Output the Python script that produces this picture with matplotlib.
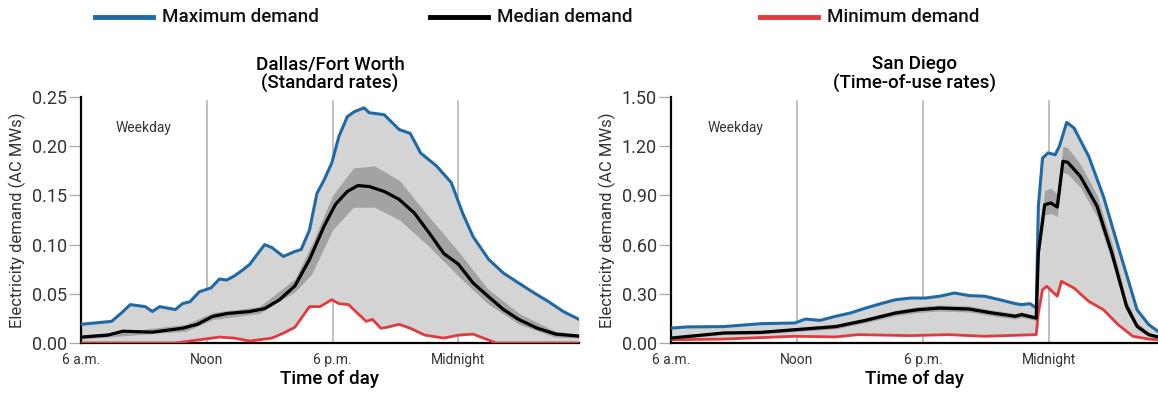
import matplotlib
matplotlib.use("Agg")
import matplotlib.pyplot as plt
from matplotlib.lines import Line2D
import numpy as np

plt.rcParams['font.family'] = ['Roboto', 'DejaVu Sans']

# ---------------- data (hours after 6 a.m.) ----------------
# Dallas / Fort Worth
dfw_max_h = [0, 1.46, 1.9, 2.35, 3.06, 3.4, 3.75, 4.5, 4.84, 5.2, 5.64, 6.2, 6.6, 6.95, 7.3, 7.7, 8.05, 8.4,
             8.76, 9.1, 9.65, 10.2, 10.5, 10.9, 11.25, 11.6, 11.96, 12.3, 12.7, 13.03, 13.5, 13.75, 14.46,
             15.17, 15.7, 16.2, 16.95, 17.66, 18.2, 18.7, 19.44, 20.15, 20.87, 21.6, 22.3, 23.0, 23.75]
dfw_max = [0.019, 0.022, 0.030, 0.039, 0.037, 0.032, 0.037, 0.034, 0.040, 0.042, 0.052, 0.056, 0.065, 0.064,
           0.068, 0.074, 0.080, 0.090, 0.100, 0.097, 0.088, 0.093, 0.095, 0.115, 0.152, 0.166, 0.183, 0.210,
           0.230, 0.235, 0.239, 0.234, 0.232, 0.217, 0.213, 0.193, 0.180, 0.163, 0.132, 0.108, 0.085, 0.071,
           0.061, 0.051, 0.042, 0.032, 0.024]

dfw_med_h = [0, 1.28, 2.0, 3.4, 4.84, 5.55, 6.27, 6.98, 8.05, 8.76, 9.47, 10.2, 10.9, 11.6, 12.14, 12.7,
             13.2, 13.75, 14.46, 15.17, 15.9, 16.6, 17.3, 18.0, 18.7, 19.44, 20.15, 20.87, 21.76, 22.65, 23.75]
dfw_med = [0.006, 0.008, 0.012, 0.011, 0.015, 0.019, 0.027, 0.030, 0.032, 0.035, 0.044, 0.058, 0.085, 0.119,
           0.141, 0.154, 0.160, 0.159, 0.154, 0.146, 0.132, 0.112, 0.091, 0.080, 0.061, 0.047, 0.034, 0.024,
           0.015, 0.009, 0.007]

dfw_band_h = [0, 3, 5, 6.3, 8.5, 10.2, 11.0, 12.0, 13.0, 14.0, 15.2, 16.6, 18.0, 19.4, 20.9, 22.6, 23.75]
dfw_band_hi = [0.008, 0.014, 0.019, 0.031, 0.037, 0.065, 0.100, 0.150, 0.178, 0.180, 0.165, 0.128, 0.093,
               0.055, 0.030, 0.012, 0.009]
dfw_band_lo = [0.004, 0.009, 0.012, 0.024, 0.030, 0.052, 0.070, 0.115, 0.138, 0.138, 0.125, 0.098, 0.068,
               0.040, 0.019, 0.006, 0.005]

dfw_min_h = [0, 4.5, 4.84, 5.9, 6.6, 7.3, 8.05, 8.4, 9.1, 9.65, 10.2, 10.5, 10.9, 11.4, 11.96, 12.3, 12.76,
             13.2, 13.6, 13.9, 14.3, 14.6, 15.17, 15.7, 16.4, 17.3, 18.0, 18.7, 19.44, 19.8, 23.75]
dfw_min = [0.0, 0.0, 0.001, 0.004, 0.006, 0.005, 0.002, 0.003, 0.005, 0.010, 0.016, 0.025, 0.037, 0.037,
           0.044, 0.040, 0.039, 0.030, 0.022, 0.024, 0.015, 0.016, 0.019, 0.015, 0.008, 0.005, 0.008, 0.009,
           0.003, 0.0, 0.0]

# San Diego
sd_max_h = [0, 0.75, 2.5, 4.3, 5.9, 6.4, 7.1, 7.85, 8.55, 9.27, 10.0, 10.7, 11.4, 12.1, 12.8, 13.5, 14.2,
            14.95, 15.66, 16.4, 16.7, 17.1, 17.4, 17.5, 17.7, 17.96, 18.3, 18.5, 18.85, 19.2, 19.9, 20.6,
            21.3, 21.87, 22.2, 22.76, 23.2]
sd_max = [0.091, 0.098, 0.100, 0.118, 0.122, 0.146, 0.138, 0.163, 0.183, 0.213, 0.240, 0.264, 0.274, 0.274,
          0.285, 0.305, 0.289, 0.285, 0.264, 0.240, 0.234, 0.240, 0.213, 0.833, 1.128, 1.159, 1.148, 1.199,
          1.345, 1.311, 1.138, 0.894, 0.589, 0.346, 0.203, 0.112, 0.071]

sd_med_h = [0, 2.5, 4.3, 5.9, 7.85, 9.27, 10.7, 11.75, 12.8, 14.2, 15.3, 16.4, 16.7, 17.4, 17.5, 17.8, 18.1,
            18.4, 18.67, 18.9, 19.5, 20.3, 21.0, 21.7, 22.2, 22.76, 23.2]
sd_med = [0.030, 0.061, 0.065, 0.081, 0.100, 0.138, 0.183, 0.203, 0.213, 0.207, 0.183, 0.163, 0.173, 0.152,
          0.549, 0.843, 0.854, 0.829, 1.108, 1.102, 1.016, 0.833, 0.549, 0.224, 0.102, 0.051, 0.037]
sd_band_hi = [0.040, 0.071, 0.075, 0.093, 0.115, 0.153, 0.200, 0.222, 0.232, 0.226, 0.201, 0.180, 0.190,
              0.168, 0.600, 0.930, 0.945, 0.905, 1.200, 1.190, 1.090, 0.900, 0.610, 0.262, 0.125, 0.064, 0.046]
sd_band_lo = [0.022, 0.051, 0.055, 0.070, 0.086, 0.124, 0.167, 0.186, 0.195, 0.189, 0.166, 0.147, 0.157,
              0.137, 0.500, 0.780, 0.790, 0.770, 1.040, 1.030, 0.950, 0.770, 0.500, 0.196, 0.084, 0.040, 0.030]

sd_min_h = [0, 2.5, 5.9, 7.85, 8.9, 11.4, 13.2, 14.95, 17.4, 17.5, 17.7, 17.9, 18.4, 18.6, 19.2, 19.9,
            20.6, 21.3, 22.0, 22.76, 23.2]
sd_min = [0.020, 0.024, 0.041, 0.037, 0.051, 0.045, 0.051, 0.041, 0.051, 0.183, 0.325, 0.346, 0.285, 0.376,
          0.335, 0.254, 0.203, 0.112, 0.041, 0.024, 0.020]

tick_hours = [0, 6, 12, 18]
tick_labels = ['6 a.m.', 'Noon', '6 p.m.', 'Midnight']

# ---------------- styling ----------------
BLUE = '#1f6aa5'
RED = '#e03a3e'
LIGHT = '#d4d4d4'
DARK = '#a3a3a3'
W, H = 1158, 397

fig = plt.figure(figsize=(W / 100, H / 100), dpi=100)


def px_axes(x0, x1, ytop, ybot):
    return fig.add_axes([x0 / W, (H - ybot) / H, (x1 - x0) / W, (ybot - ytop) / H])


def draw(ax, mx_h, mx, md_h, md, bh, blo, bhi, mn_h, mn, ymax, yticks, ylabels, xmax, title, wk_x):
    grid = np.linspace(0, xmax, 600)
    env_hi = np.interp(grid, mx_h, mx)
    env_lo = np.interp(grid, mn_h, mn)
    ax.fill_between(grid, env_lo, env_hi, color=LIGHT, lw=0, zorder=1)
    ax.fill_between(bh, blo, bhi, color=DARK, lw=0, zorder=2)
    for xv in [6, 12, 18]:
        ax.plot([xv, xv], [0, ymax * 0.985], color='#b5b5b5', lw=1.2, zorder=0.5)
    ax.plot(mn_h, mn, color=RED, lw=2.0, zorder=3, solid_joinstyle='round')
    ax.plot(mx_h, mx, color=BLUE, lw=2.2, zorder=3, solid_joinstyle='round')
    ax.plot(md_h, md, color='black', lw=2.3, zorder=4, solid_joinstyle='round')
    ax.set_xlim(0, xmax)
    ax.set_ylim(0, ymax)
    ax.set_yticks(yticks)
    ax.set_yticklabels(ylabels, fontsize=13, color='#333333')
    ax.tick_params(axis='y', length=9, width=0.9, color='#aaaaaa', pad=1)
    ax.set_xticks(tick_hours)
    ax.set_xticklabels(tick_labels, fontsize=10, color='#333333')
    ax.tick_params(axis='x', length=0, pad=7)
    for s in ['top', 'right']:
        ax.spines[s].set_visible(False)
    ax.spines['left'].set_linewidth(1.6)
    ax.spines['bottom'].set_linewidth(1.6)
    ax.set_xlabel('Time of day', fontsize=13.5, fontweight='medium', labelpad=2)
    ax.set_ylabel('Electricity demand (AC MWs)', fontsize=12, color='#333333', labelpad=4)
    ax.text(wk_x, ymax * 0.875, 'Weekday', fontsize=10, color='#333333', ha='center', va='center')
    ax.set_title(title, fontsize=13.5, fontweight='medium', pad=6, linespacing=1.05)
    ax.set_facecolor('none')


ax1 = px_axes(81, 579, 97, 343)
draw(ax1, dfw_max_h, dfw_max, dfw_med_h, dfw_med, dfw_band_h, dfw_band_lo, dfw_band_hi,
     dfw_min_h, dfw_min, 0.25, [0, 0.05, 0.10, 0.15, 0.20, 0.25],
     ['0.00', '0.05', '0.10', '0.15', '0.20', '0.25'], 23.75,
     'Dallas/Fort Worth\n(Standard rates)', 3.0)

ax2 = px_axes(671, 1158, 97, 343)
draw(ax2, sd_max_h, sd_max, sd_med_h, sd_med, sd_med_h, sd_band_lo, sd_band_hi,
     sd_min_h, sd_min, 1.50, [0, 0.30, 0.60, 0.90, 1.20, 1.50],
     ['0.00', '0.30', '0.60', '0.90', '1.20', '1.50'], 23.2,
     'San Diego\n(Time-of-use rates)', 3.1)

# legend
for x0, col, lab in [(95, BLUE, 'Maximum demand'), (430, 'black', 'Median demand'),
                     (760, RED, 'Minimum demand')]:
    fig.add_artist(Line2D([x0 / W, (x0 + 58) / W], [(H - 17) / H] * 2, color=col, lw=3.5,
                          transform=fig.transFigure))
    fig.text((x0 + 67) / W, (H - 17) / H, lab, fontsize=13.5, fontweight='medium',
             ha='left', va='center', color='#111111')

fig.savefig('out.png', dpi=100)
